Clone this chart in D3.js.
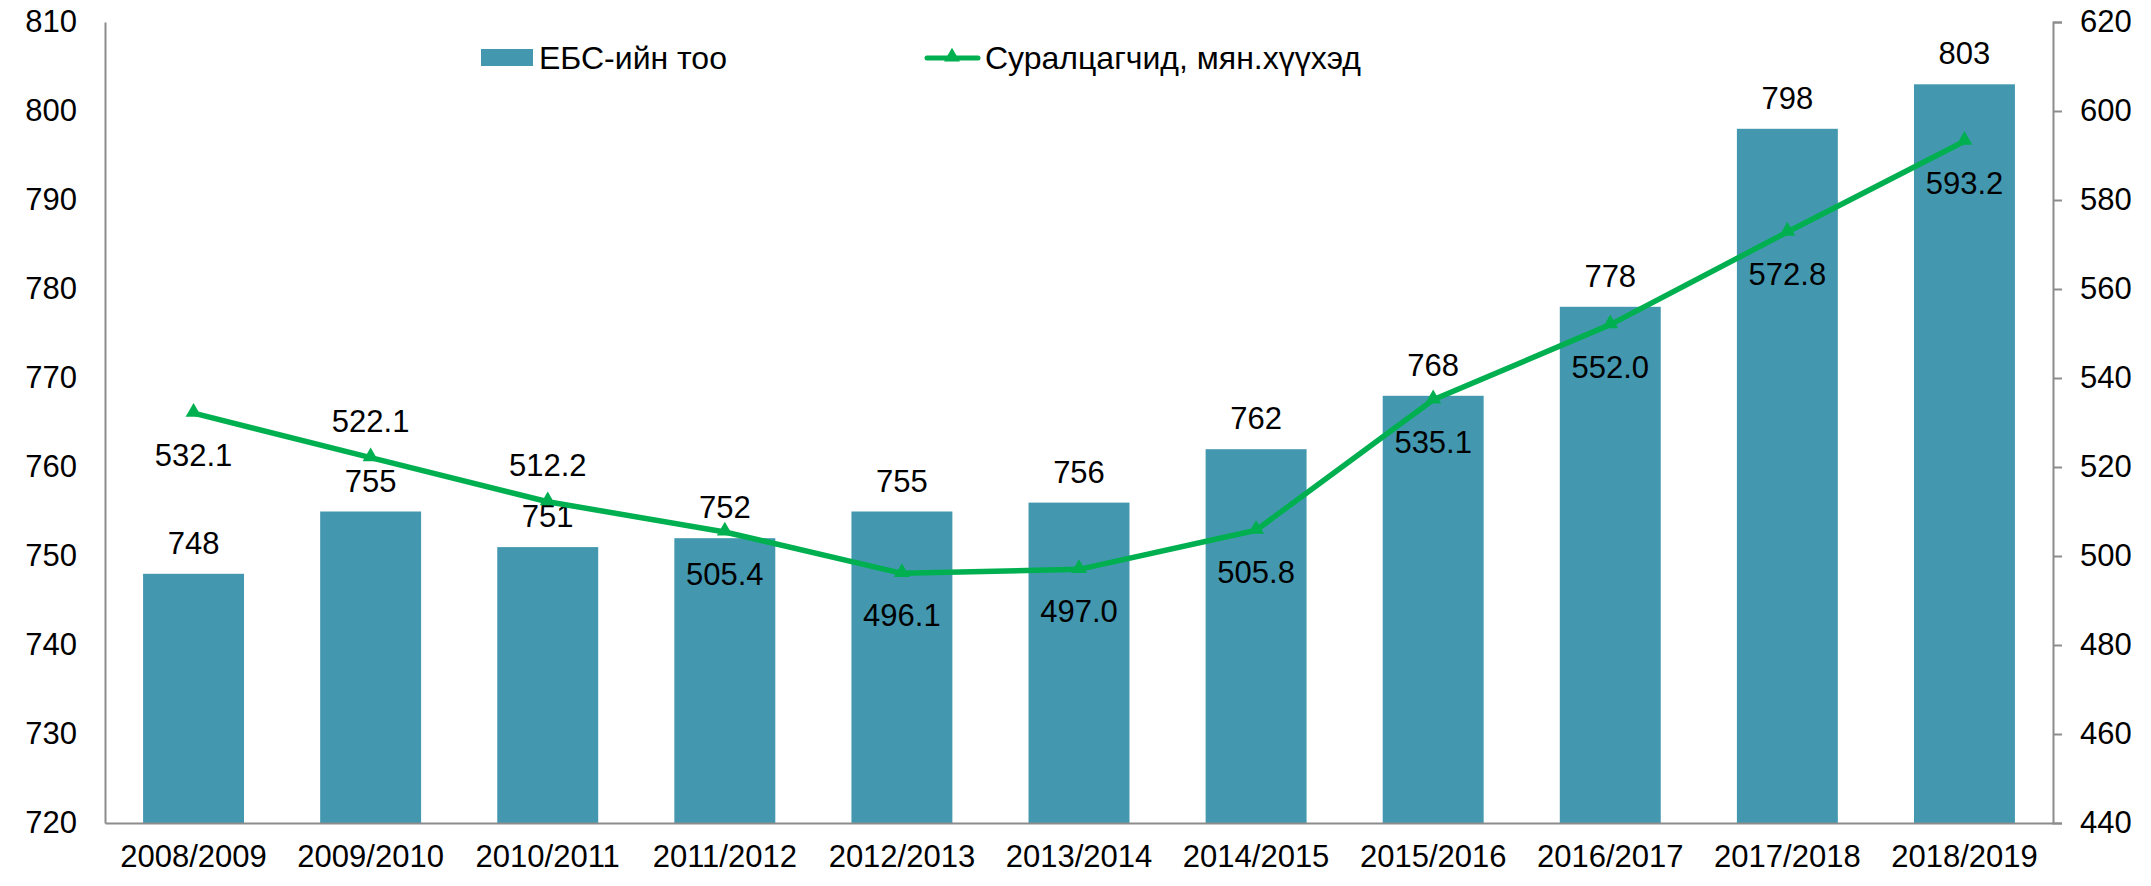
<!DOCTYPE html>
<html>
<head>
<meta charset="utf-8">
<script src="https://cdn.jsdelivr.net/npm/d3@7"></script>
<style>
  body { margin: 0; background: #fff; }
  text { font-family: "Liberation Sans", Arial, sans-serif; fill: #000; }
</style>
</head>
<body>
<script>
const width = 2151;
const height = 886;
const margin = { top: 22, right: 98, bottom: 63, left: 105 };

const years = [
  "2008/2009", "2009/2010", "2010/2011", "2011/2012", "2012/2013", "2013/2014",
  "2014/2015", "2015/2016", "2016/2017", "2017/2018", "2018/2019",
];
const schools = [748, 755, 751, 752, 755, 756, 762, 768, 778, 798, 803];
const students = [532.1, 522.1, 512.2, 505.4, 496.1, 497.0, 505.8, 535.1, 552.0, 572.8, 593.2];
// where each student label sits relative to its point
const studentLabelPos = ["below", "above", "above", "below", "below", "below", "below", "below", "below", "below", "below"];

const leftTicks = d3.range(720, 811, 10);
const rightTicks = d3.range(440, 621, 20);

const barColor = "#4398b0";
const lineColor = "#00b050";
const schoolName = "ЕБС-ийн тоо";
const studentName = "Суралцагчид, мян.хүүхэд";

const innerW = width - margin.left - margin.right;
const innerH = height - margin.top - margin.bottom;

const svg = d3.select("body").append("svg")
  .attr("width", width)
  .attr("height", height);

const g = svg.append("g")
  .attr("transform", `translate(${margin.left},${margin.top})`);

const x = d3.scaleBand()
  .domain(years)
  .range([0, innerW])
  .paddingInner(0.43)
  .paddingOuter(0.215);

const yLeft = d3.scaleLinear().domain([720, 810]).range([innerH, 0]);
const yRight = d3.scaleLinear().domain([440, 620]).range([innerH, 0]);

const data = years.map((y, i) => ({
  year: y,
  school: schools[i],
  student: students[i],
  pos: studentLabelPos[i],
}));

// bars
g.selectAll("rect.bar")
  .data(data)
  .join("rect")
  .attr("class", "bar")
  .attr("x", (d) => x(d.year))
  .attr("width", x.bandwidth())
  .attr("y", (d) => yLeft(d.school))
  .attr("height", (d) => innerH - yLeft(d.school))
  .attr("fill", barColor);

// axes
const axisLeft = g.append("g")
  .call(d3.axisLeft(yLeft).tickValues(leftTicks).tickSize(0).tickPadding(28));
axisLeft.select(".domain").attr("stroke", "#8c8c8c").attr("stroke-width", 2);
axisLeft.selectAll("text").attr("font-size", 31).attr("font-family", "Liberation Sans, Arial, sans-serif");

const axisRight = g.append("g")
  .attr("transform", `translate(${innerW},0)`)
  .call(d3.axisRight(yRight).tickValues(rightTicks).tickSize(9).tickPadding(18));
axisRight.select(".domain").attr("stroke", "#8c8c8c").attr("stroke-width", 2);
axisRight.selectAll("line").attr("stroke", "#8c8c8c").attr("stroke-width", 2);
axisRight.selectAll("text").attr("font-size", 31).attr("font-family", "Liberation Sans, Arial, sans-serif");

const axisBottom = g.append("g")
  .attr("transform", `translate(0,${innerH})`)
  .call(d3.axisBottom(x).tickSize(0).tickPadding(22));
axisBottom.select(".domain").attr("stroke", "#8c8c8c").attr("stroke-width", 2);
axisBottom.selectAll("text").attr("font-size", 31).attr("font-family", "Liberation Sans, Arial, sans-serif");

// bar labels
g.selectAll("text.barLabel")
  .data(data)
  .join("text")
  .attr("class", "barLabel")
  .attr("x", (d) => x(d.year) + x.bandwidth() / 2)
  .attr("y", (d) => yLeft(d.school) - 20)
  .attr("text-anchor", "middle")
  .attr("font-size", 31)
  .text((d) => d.school);

// student line
const cx = (d) => x(d.year) + x.bandwidth() / 2;
const line = d3.line()
  .x(cx)
  .y((d) => yRight(d.student));

g.append("path")
  .datum(data)
  .attr("fill", "none")
  .attr("stroke", lineColor)
  .attr("stroke-width", 5.5)
  .attr("stroke-linejoin", "round")
  .attr("d", line);

const tri = d3.symbol().type(d3.symbolTriangle).size(110);
g.selectAll("path.marker")
  .data(data)
  .join("path")
  .attr("class", "marker")
  .attr("transform", (d) => `translate(${cx(d)},${yRight(d.student) - 1})`)
  .attr("d", tri)
  .attr("fill", lineColor);

g.selectAll("text.lineLabel")
  .data(data)
  .join("text")
  .attr("class", "lineLabel")
  .attr("x", cx)
  .attr("y", (d) => yRight(d.student) + (d.pos === "above" ? -26 : 53))
  .attr("text-anchor", "middle")
  .attr("font-size", 31)
  .text((d) => d3.format(".1f")(d.student));

// legend
const legend = svg.append("g");
legend.append("rect")
  .attr("x", 481).attr("y", 49)
  .attr("width", 52).attr("height", 17)
  .attr("fill", barColor);
legend.append("text")
  .attr("x", 539).attr("y", 69)
  .attr("font-size", 32)
  .text(schoolName);

legend.append("line")
  .attr("x1", 927).attr("x2", 978)
  .attr("y1", 58).attr("y2", 58)
  .attr("stroke", lineColor)
  .attr("stroke-width", 5)
  .attr("stroke-linecap", "round");
legend.append("path")
  .attr("transform", "translate(952,57)")
  .attr("d", tri)
  .attr("fill", lineColor);
legend.append("text")
  .attr("x", 985).attr("y", 69)
  .attr("font-size", 32)
  .text(studentName);
</script>
</body>
</html>
